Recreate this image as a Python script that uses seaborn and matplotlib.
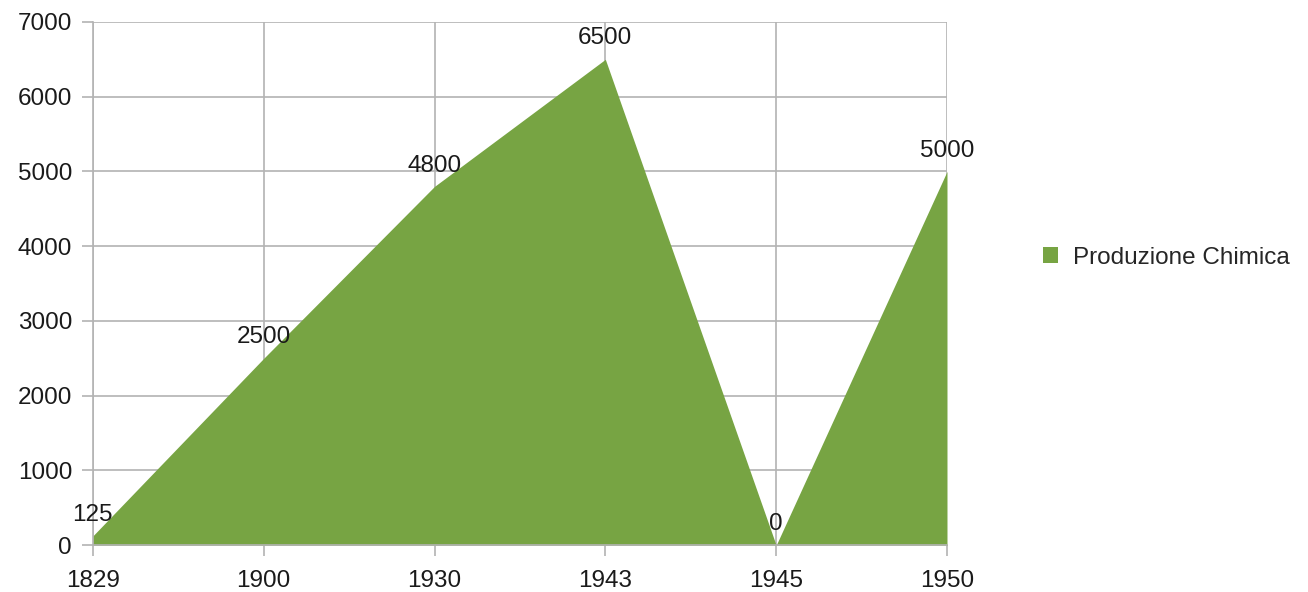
import pandas as pd
import matplotlib
matplotlib.use("Agg")
import matplotlib.pyplot as plt
import seaborn as sns
from matplotlib.patches import Patch

# Data
anni = ["1829", "1900", "1930", "1943", "1945", "1950"]
produzione = [125, 2500, 4800, 6500, 0, 5000]
serie = "Produzione Chimica"

df = pd.DataFrame({"anno": anni, "valore": produzione})
df["pos"] = range(len(df))

sns.set_style("whitegrid")
plt.rcParams["font.family"] = ["Liberation Sans", "DejaVu Sans"]

verde = "#77a443"
grigio = "#b3b3b3"
fs = 17.5

fig = plt.figure(figsize=(13.08, 5.92), dpi=100)
ax = fig.add_axes([0.071, 0.079, 0.653, 0.884])

sns.lineplot(data=df, x="pos", y="valore", ax=ax, color=verde, linewidth=0)
ax.fill_between(df["pos"], df["valore"], 0, color=verde, linewidth=0, zorder=2)

ax.set_xlim(0, len(df) - 1)
ax.set_ylim(0, 7000)
ax.set_xticks(df["pos"])
ax.set_xticklabels(anni)
ax.set_yticks(range(0, 7001, 1000))
ax.set_xlabel("")
ax.set_ylabel("")

ax.grid(True, color=grigio, linewidth=1.2)
ax.set_axisbelow(True)
for s in ["top", "right"]:
    ax.spines[s].set_visible(False)
for s in ["left", "bottom"]:
    ax.spines[s].set_color(grigio)
    ax.spines[s].set_linewidth(1.2)
ax.tick_params(axis="both", which="major", length=8, width=1.2, color=grigio,
               labelsize=fs, labelcolor="#1a1a1a", direction="out",
               bottom=True, left=True)
ax.tick_params(axis="y", pad=7)
ax.tick_params(axis="x", pad=10)

# data labels
for p, v in zip(df["pos"], df["valore"]):
    ax.annotate(str(v), (p, v), xytext=(0, 15), textcoords="offset points",
                ha="center", va="center", fontsize=fs, color="#1a1a1a",
                zorder=5, annotation_clip=False)

handle = Patch(facecolor=verde, edgecolor="none", label=serie)
fig.legend(handles=[handle], loc="center left", bbox_to_anchor=(0.781, 0.565),
           frameon=False, fontsize=fs, handlelength=0.6, handleheight=0.6,
           handletextpad=0.6)

fig.savefig("out.png", dpi=100)
